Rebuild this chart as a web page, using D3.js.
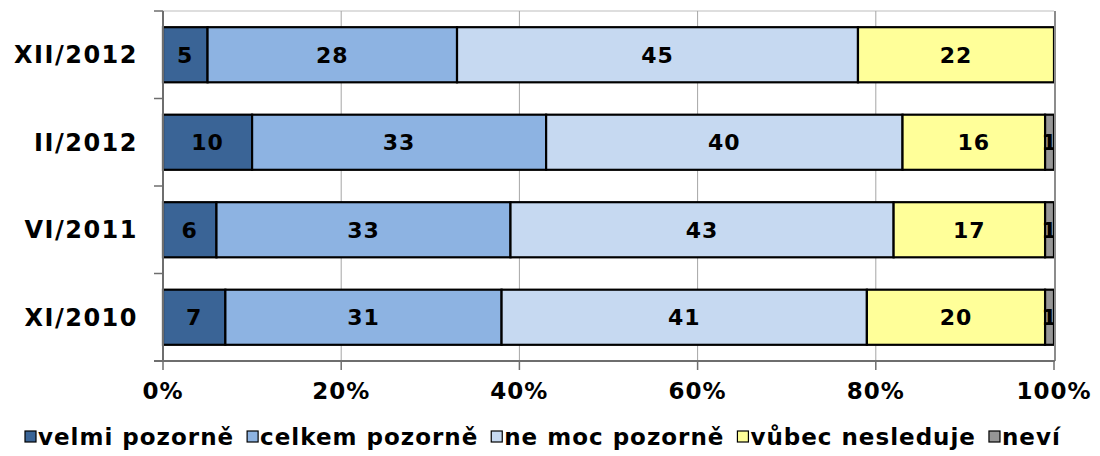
<!DOCTYPE html>
<html>
<head>
<meta charset="utf-8">
<script src="https://cdn.jsdelivr.net/npm/d3@7"></script>
<style>
  body { margin: 0; background: #fff; }
  text { font-family: Verdana, "DejaVu Sans", sans-serif; font-weight: bold; }
</style>
</head>
<body>
<svg id="chart" width="1100" height="456"></svg>
<script>
// data
var categories = ["XII/2012", "II/2012", "VI/2011", "XI/2010"];
var seriesNames = ["velmi pozorně", "celkem pozorně", "ne moc pozorně", "vůbec nesleduje", "neví"];
var velmi  = [5, 10, 6, 7];
var celkem = [28, 33, 33, 31];
var neMoc  = [45, 40, 43, 41];
var vubec  = [22, 16, 17, 20];
var nevi   = [0, 1, 1, 1];
var xTicks = [0, 20, 40, 60, 80, 100];

var colors = ["#3a6496", "#8db3e2", "#c6d9f1", "#ffff99", "#969696"];

draw();

function draw() {
    var svg = d3.select("#chart");

    var pLeft = 163, pRight = 1054, pTop = 11, pBottom = 361;

    var x = d3.scaleLinear().domain([0, 100]).range([pLeft, pRight]);
    var y = d3.scaleBand().domain(categories).range([pTop, pBottom])
        .paddingInner(0.37).paddingOuter(0.185);

    // build rows for stacking
    var rows = categories.map(function(c, i) {
        return { cat: c, s0: velmi[i], s1: celkem[i], s2: neMoc[i], s3: vubec[i], s4: nevi[i] };
    });
    var keys = ["s0", "s1", "s2", "s3", "s4"];
    var stacked = d3.stack().keys(keys)(rows);

    // plot frame + grid
    svg.append("line")
        .attr("x1", pLeft).attr("x2", pRight).attr("y1", pTop).attr("y2", pTop)
        .attr("stroke", "#bdbdbd").attr("stroke-width", 1);

    svg.selectAll("line.grid")
        .data(xTicks.slice(1, -1))
        .enter().append("line")
        .attr("class", "grid")
        .attr("x1", function(d) { return x(d); })
        .attr("x2", function(d) { return x(d); })
        .attr("y1", pTop).attr("y2", pBottom)
        .attr("stroke", "#a6a6a6").attr("stroke-width", 1);

    // clip for the little "1" labels at the right edge
    svg.append("clipPath").attr("id", "plotclip")
        .append("rect").attr("x", pLeft).attr("y", 0).attr("width", pRight - pLeft + 1).attr("height", 456);

    // bars
    var layer = svg.append("g").selectAll("g")
        .data(stacked)
        .enter().append("g")
        .attr("fill", function(d, i) { return colors[i]; });

    layer.selectAll("rect")
        .data(function(d) { return d.filter(function(p) { return p[1] - p[0] > 0; }); })
        .enter().append("rect")
        .attr("x", function(d) { return x(d[0]); })
        .attr("y", function(d) { return y(d.data.cat); })
        .attr("width", function(d) { return x(d[1]) - x(d[0]); })
        .attr("height", y.bandwidth())
        .attr("stroke", "#000")
        .attr("stroke-width", 2.2);

    // value labels
    var labels = svg.append("g").attr("clip-path", "url(#plotclip)");
    stacked.forEach(function(s) {
        labels.selectAll(null)
            .data(s.filter(function(p) { return p[1] - p[0] > 0; }))
            .enter().append("text")
            .attr("x", function(d) { return (x(d[0]) + x(d[1])) / 2; })
            .attr("y", function(d) { return y(d.data.cat) + y.bandwidth() / 2; })
            .attr("dy", "0.36em")
            .attr("text-anchor", "middle")
            .attr("font-size", 22)
            .attr("letter-spacing", 1)
            .attr("fill", "#000")
            .text(function(d) { return d[1] - d[0]; });
    });

    // right frame line (100%)
    svg.append("line")
        .attr("x1", pRight + 1).attr("x2", pRight + 1).attr("y1", pTop).attr("y2", pBottom)
        .attr("stroke", "#8c8c8c").attr("stroke-width", 2);

    // y axis
    var yAxisG = svg.append("g");
    yAxisG.append("line")
        .attr("x1", pLeft).attr("x2", pLeft).attr("y1", pTop).attr("y2", pBottom)
        .attr("stroke", "#6e6e6e").attr("stroke-width", 2);
    var bounds = d3.range(categories.length + 1).map(function(i) {
        return pTop + i * y.step();
    });
    yAxisG.selectAll("line.tick")
        .data(bounds)
        .enter().append("line")
        .attr("x1", pLeft - 9).attr("x2", pLeft)
        .attr("y1", function(d) { return d; })
        .attr("y2", function(d) { return d; })
        .attr("stroke", "#6e6e6e").attr("stroke-width", 1.5);
    yAxisG.selectAll("text")
        .data(categories)
        .enter().append("text")
        .attr("x", 138)
        .attr("y", function(d) { return y(d) + y.bandwidth() / 2; })
        .attr("dy", "0.36em")
        .attr("text-anchor", "end")
        .attr("font-size", 24)
        .attr("letter-spacing", 1.5)
        .text(function(d) { return d; });

    // x axis
    var xAxisG = svg.append("g");
    xAxisG.append("line")
        .attr("x1", pLeft - 9).attr("x2", pRight + 1).attr("y1", pBottom).attr("y2", pBottom)
        .attr("stroke", "#6e6e6e").attr("stroke-width", 2);
    xAxisG.selectAll("line.tick")
        .data(xTicks)
        .enter().append("line")
        .attr("x1", function(d) { return x(d); })
        .attr("x2", function(d) { return x(d); })
        .attr("y1", pBottom).attr("y2", pBottom + 9)
        .attr("stroke", "#6e6e6e").attr("stroke-width", 1.5);
    xAxisG.selectAll("text")
        .data(xTicks)
        .enter().append("text")
        .attr("x", function(d) { return x(d); })
        .attr("y", 391)
        .attr("dy", "0.36em")
        .attr("text-anchor", "middle")
        .attr("font-size", 23)
        .attr("letter-spacing", 1)
        .text(function(d) { return d + "%"; });

    // legend
    var legend = svg.append("g");
    var lx = 25;
    seriesNames.forEach(function(name, i) {
        legend.append("rect")
            .attr("x", lx).attr("y", 431)
            .attr("width", 11).attr("height", 11)
            .attr("fill", colors[i])
            .attr("stroke", "#000").attr("stroke-width", 1.2);
        var t = legend.append("text")
            .attr("x", lx + 13).attr("y", 437)
            .attr("dy", "0.36em")
            .attr("font-size", 23)
            .attr("letter-spacing", 1)
            .text(name);
        lx += 13 + t.node().getComputedTextLength() + 13;
    });
}
</script>
</body>
</html>
